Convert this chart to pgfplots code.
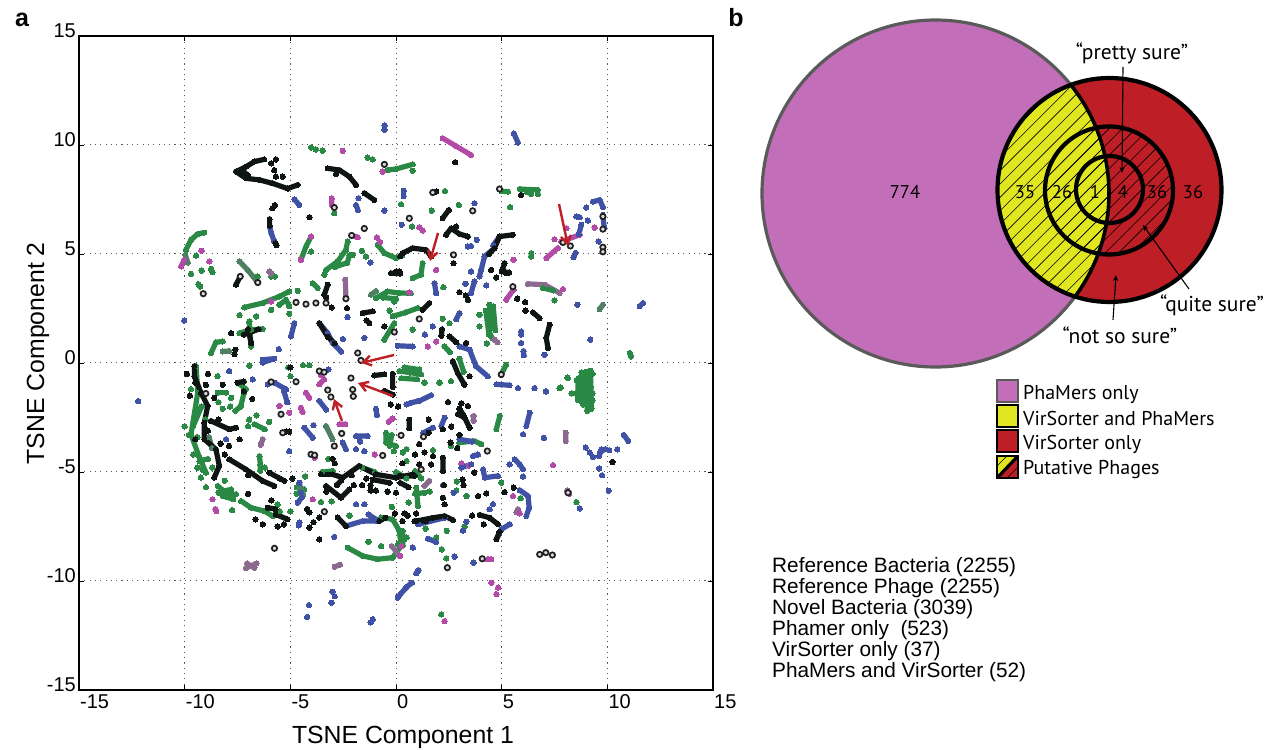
\documentclass[border=0pt]{standalone}
\usepackage{pgfplots}
\pgfplotsset{compat=1.18}
\usetikzlibrary{arrows.meta}
\usepackage{fontspec}
\setmainfont{Liberation Sans}
\newfontfamily\venn{PT Sans}
\definecolor{cg}{HTML}{2A8A45}
\definecolor{cm}{HTML}{B24BA6}
\definecolor{cb}{HTML}{4052A6}
\definecolor{ck}{HTML}{0E1512}
\definecolor{cgm}{HTML}{8A6A8E}
\definecolor{cgg}{HTML}{4F7F63}
\definecolor{vpink}{HTML}{C36EB8}
\definecolor{vyel}{HTML}{E0E720}
\definecolor{vred}{HTML}{BE1E26}
\definecolor{vgray}{HTML}{5A5A5A}
\pgfplotsset{
 st/.style={color=#1,line width=5.2pt,line cap=round,line join=round,mark=*,mark size=2.6pt,mark options={solid,fill=#1,draw=#1,line width=0pt},forget plot},
 dt/.style={only marks,mark=*,mark size=2.7pt,mark options={fill=#1,draw=#1,line width=0pt},forget plot},
}
\begin{document}
\begin{tikzpicture}[x=1pt,y=1pt]
\useasboundingbox (0,0) rectangle (1270,750);
\begin{axis}[at={(79pt,60pt)},anchor=south west,scale only axis,width=634pt,height=654pt,
 xmin=-15,xmax=15,ymin=-15,ymax=15,
 xtick={-15,-10,-5,0,5,10,15},ytick={-15,-10,-5,0,5,10,15},
 minor tick num=0,tick align=inside,major tick length=5pt,
 tick style={black,line width=0.9pt},axis line style={line width=1.3pt,black},
 grid=major,grid style={black!65,line width=1pt,dash pattern=on 1.1pt off 4.2pt},
 /pgf/number format/assume math mode=true,
 tick label style={font=\fontsize{20}{21}\selectfont},
 label style={font=\fontsize{24.8}{26}\selectfont},
 xticklabel style={anchor=north west,inner xsep=0pt,xshift=1pt,yshift=-1pt},
 yticklabel style={anchor=east,inner xsep=0pt,xshift=-3pt,yshift=5.5pt},
 xlabel={TSNE Component 1},ylabel={TSNE Component 2},
 xlabel style={at={(axis description cs:0.511,0)},anchor=center,yshift=-47pt},
 ylabel style={at={(axis description cs:0,0.515)},anchor=center,rotate=0,xshift=0pt,yshift=41pt},
 clip=true]
% green strokes
\addplot[st=cg] coordinates {
(-9.94,5.19) (-9.7,5.65) (-9.38,5.92) (-9.07,5.98)

(-4.5,4.73) (-4.26,5.34) (-4.02,5.8)

(-7.18,2.55) (-6.31,2.75) (-5.52,3.05) (-5.05,3.28)

(-5.52,2.67) (-5.2,2.9) (-5.05,2.6)

(-3.94,3.66) (-3.7,3.44)

(-3.31,4.27) (-2.76,4.66) (-2.37,5.19) (-2.29,5.57)

(-2.9,4.4) (-2.3,4.6) (-2.2,4.95)

(-0.87,5.42) (-0.55,5.04) (0,4.81) (0.3,4.95)

(-0.95,2.98) (-0.39,3.28) (0.16,3.21) (0.7,3.2)

(-0.6,3.0) (0,2.95)

(-0.55,1.07) (-0.08,1.83)

(-7.41,1.37) (-6.86,1.53) (-6.31,1.56)

(-6.94,1.83) (-6.86,0.76)

(-8.75,0.46) (-8.52,0.95) (-8.2,0.99)

(-0.39,8.85) (0,8.9) (0.79,9.11)

(5.0,7.88) (5.3,7.86)

(5.85,7.98) (6.71,7.94) (6.71,7.75)

(6.2,7.85) (6.4,7.75)

(6.4,5.04) (6.4,4.88)

(-0.16,2.14) (0.47,2.32) (1.03,2.52)

(1.26,4.58) (1.18,4.05) (0.79,3.89)

(4.42,2.67) (4.5,1.98) (4.42,1.37) (4.55,1.15)

(4.25,2.4) (4.4,1.3)

(4.6,2.6) (4.7,1.5)

(5.21,-0.08) (4.98,-0.53)

(11.06,0.46) (11.12,0.3)

(2.29,0.76) (2.55,0.5)

(3,0.2) (3.2,-0.4)

(8.78,-0.44) (8.85,-1.9)

(9.2,-0.35) (9.25,-2.1)

(9.0,-0.4) (9.05,-2.2)

(8.62,-0.7) (8.6,-1.7)

(8.3,-1.4) (9.3,-1.4)

(8.55,-0.8) (9.3,-0.5)

(8.8,-1.1) (9.2,-1.1)

(8.8,-1.8) (9.3,-1.7)

(4.91,-2.43) (4.75,-3.04)

(3.0,-3.65) (3.72,-3.58) (4.04,-3.73)

(0.16,-0.37) (0.65,-0.44) (1.19,-0.52)

(0.25,-0.7) (1.0,-0.75)

(0.4,-0.2) (1.1,-0.3)

(0.96,-5.72) (1.04,-6.56)

(0.9,-6.0) (1.35,-5.95)

(0.32,-7.7) (0.32,-8.39)

(-9.38,-1.36) (-9.7,-3.27) (-9.3,-4.34) (-8.99,-5.03)

(-9.2,-2.0) (-9.6,-2.9)

(-9.46,-0.14) (-9.38,-1.36)

(-8.44,-1.36) (-8.04,-1.36)

(-7.33,-1.97) (-7.6,-2.2)

(-7.2,-1.4) (-7.35,-2.0)

(-6.7,-2.81) (-6.21,-3.04)

(-6.46,-4.27) (-6.42,-4.65) (-6.42,-4.95)

(-8.44,-5.64) (-7.97,-6.02) (-7.57,-6.02)

(-8.3,-5.9) (-7.8,-5.8)

(-8.4,-5.95) (-8.0,-6.15)

(-7.33,-6.33) (-6.86,-6.64) (-6.23,-6.79) (-5.84,-7.02)

(-4.5,-5.95) (-4.42,-6.1)

(-4.7,-5.7) (-4.35,-5.8)

(-0.47,-3.2) (-0.47,-3.65) (0,-3.81)

(-0.2,-3.3) (-0.3,-3.8)

(-0.71,-7.09) (-0.16,-7.17) (0.16,-7.7) (0.24,-8.39) (-0.16,-8.93) (-0.87,-9.0) (-1.58,-8.85) (-2.29,-8.47)

(-3.5,-5.0) (-3.0,-4.95)

(-1.6,-4.8) (-1.0,-5.0)

(0,-5.0) (0.5,-5.3)

(0.9,-4.95) (1.2,-5.3)

(-9.3,-4.5) (-8.9,-4.4)

(-7.5,-0.9) (-7.1,-1.2)

(-8.2,-6.1) (-7.7,-6.25)

(-5.8,-7.0) (-5.5,-6.8)
};
\addplot[dt=cg] coordinates {(-9.7,4.09) (-8.75,4.32) (-8.68,4.17) (-9.2,4.24) (-9.46,4.93) (-9.27,3.51) (-9.35,3.62) (-6.55,3.97) (-5.73,3.97) (-5.91,2.44) (-5.05,2.26) (-4.65,3.31) (-3.39,4.05) (-2.05,4.96) (-1.61,5.15) (-1.42,4.89) (-5.91,3.97) (-4.02,5.11) (-4.02,9.89) (-3.79,9.8) (-3.47,9.74) (-1.34,9.42) (-1.1,9.34) (0.79,8.82) (0.24,7.28) (1.69,6.99) (2.97,7.25) (2.32,7.89) (5.4,7.15) (0.76,6.26) (-2.92,6.87) (-0.08,2.82) (-0.3,2.4) (2.24,3.48) (1.9,3.2) (2.21,2.03) (2.53,1.83) (0.79,1.53) (3.95,1.68) (3.95,2.21) (4.3,0.9) (7.5,2.87) (7.74,-1.15) (8.13,-0.69) (8.11,-0.67) (7.8,-1.13) (7.09,-1.31) (2.06,-0.9) (2.6,-0.83) (1.35,-0.9) (-6.94,-0.12) (-7.4,2.2) (-6.62,2.14) (-6.94,1.9) (-8.44,-0.6) (-9.8,-3.3) (-9.23,-5.26) (-8.99,-5.7) (-7.75,-6.75) (-7.0,-2.9) (-6.95,-2.6) (-3.05,-6.35) (-3.55,-6.38) (-4.7,-6.0) (-5.0,-0.6) (-4.4,-0.1) (-4.1,-0.1) (-5.1,-0.2) (0.32,-4.11) (-0.1,-4.05) (2.88,-5.44) (2.85,-5.85) (3.33,-6.1) (3.25,-7.5) (2.4,-7.7) (2.38,-8.96) (2.17,-8.55) (1.9,-8.0) (8.54,-6.38) (5.9,-6.2) (4.98,-5.49) (2.14,-11.53) (2.6,-3.8) (1.75,-4.0) (0.5,-4.5) (-9.7,-1.2) (-10.0,-2.9) (-9.4,-3.4) (-9.0,-2.6) (-8.2,-2.1) (-8.4,-1.8) (-7.8,-1.6) (-7.85,-2.0) (-9.6,-4.2) (-9.4,-4.8) (-9.15,-4.9) (-8.7,-4.8) (-8.1,-5.4) (-6.6,-2.4) (-6.0,-2.7) (-6.2,-4.8) (-5.6,-6.5) (-5.0,-6.8) (-4.3,-5.2) (-3.2,-4.4) (-2.2,-7.0) (-1.3,-8.2) (-0.7,-8.4) (-0.2,-6.6) (0.5,-8.0) (0.5,-3.95) (1.4,-7.6) (1.6,-5.9) (0.6,-6.4)};
% grey mixed strokes
\addplot[st=cgg] coordinates {
(-9.97,4.96) (-9.85,4.6)

(-7.41,4.66) (-7.02,4.27) (-6.54,3.69)

(-3.31,-2.89) (-3.0,-3.5)

(-8.2,0.53) (-7.9,0.55)

(-1.18,3.13) (-0.95,3.3)

(9.64,2.47) (9.79,2.67)

(-4.55,-5.75) (-4.4,-6.0)

(-8.85,-3.4) (-8.7,-3.9)
};
% magenta strokes
\addplot[st=cm] coordinates {
(-10.17,4.43) (-10.02,4.73)

(-3.04,7.56) (-3.04,7.25)

(-2.1,5.85) (-1.81,5.77)

(2.21,10.31) (2.84,9.95) (3.55,9.54)

(5.56,3.36) (5.21,2.9)

(7.11,4.81) (7.66,5.27)

(7.82,5.57) (8.69,5.88)

(-3.63,-0.98) (-3.4,-0.75)

(-4.26,-1.36) (-4.1,-1.6)

(-4.5,-2.05) (-4.42,-2.25)

(-2.68,-2.81) (-2.4,-2.81)

(-0.35,-2.7) (-0.16,-2.55)

(-8.55,-6.7) (-8.5,-6.8)
};
\addplot[st=cgm] coordinates {
(6.24,3.63) (7.03,3.59) (7.74,3.21)

(-2.4,3.82) (-2.37,3.05)

(-6.0,4.2) (-5.9,4.1)

(-7.1,-9.4) (-6.6,-9.2)

(-7.05,-9.2) (-6.7,-9.4)

(-2.9,-9.35) (-2.65,-9.25)

(-6.31,-3.5) (-6.4,-3.75)

(3.67,-2.43) (3.67,-2.65)

(8.03,-3.2) (8.03,-3.58)

(1.35,-5.64) (1.58,-5.41)

(5.77,-6.71) (5.7,-6.85)

(-0.2,-8.4) (0.05,-8.7)

(4.66,1.07) (4.8,0.95)

(8.1,-5.85) (8.2,-6.0)
};
\addplot[st=cg] coordinates {(6.95,3.44) (7.43,3.33)

(0.4,-8.1) (0.1,-8.3)};
\addplot[dt=cm] coordinates {(-9.2,5.15) (-8.83,4.66) (-2.52,9.73) (-0.63,8.78) (-0.9,5.76) (-0.75,5.55) (0.63,3.24) (-5.91,2.82) (-4.5,4.73) (-4.02,5.8) (5.56,4.73) (1.1,6.23) (1.26,6.08) (1.9,4.27) (1.5,0.76) (1.9,0.99) (7.9,3.39) (7.5,5.68) (8.06,6.18) (9.4,6.21) (7.43,-4.69) (5.54,-6.1) (5.85,-6.9) (4.51,-10.08) (4.83,-10.3) (4.75,-10.6) (2.3,-11.84) (3.45,-4.7) (3.09,-4.6) (-5.05,-2.28) (-3.94,-6.25) (-8.68,-6.25) (-3.85,-4.35) (-3.55,-0.55) (-5.52,-1.97) (-1.0,-4.2) (0.25,-8.4) (0.2,-8.85) (4.35,-9.0) (4.5,-9.0)};
% blue strokes
\addplot[st=cb] coordinates {
(-4.81,7.51) (-4.58,7.25)

(-5.98,6.26) (-5.9,5.95) (-5.76,5.57)

(-1.89,7.25) (-1.8,7.0)

(-6.31,0.15) (-5.76,0.2)

(-4.97,1.22) (-4.81,1.83)

(-3.63,1.83) (-3.23,1.37) (-3.0,0.92) (-2.6,0.53)

(-6.31,0.02) (-5.76,0.2)

(0.36,7.9) (0.36,7.65)

(5.58,10.53) (5.77,10.11)

(0.08,0.79) (0.79,0.76)

(1.82,3.66) (1.9,3.2)

(3.0,2.29) (2.85,2.0)

(3,0.76) (3.48,0.61) (3.79,-0.15) (4.34,-0.61)

(3.71,3.74) (3.55,3.2)

(4.66,5.27) (4.19,4.89) (4.03,4.27) (3.95,3.97)

(4.9,5.8) (4.6,5.4)

(8.77,6.34) (8.65,5.9)

(8.53,6.72) (8.7,6.68)

(8.5,5.05) (8.4,4.85)

(9.32,7.4) (9.64,7.48) (9.79,7.15)

(9.79,6.8) (9.85,6.2)

(11.53,2.6) (11.69,2.75)

(5.92,1.45) (5.92,1.3)

(6.03,0.55) (6.05,0.35)

(4.75,-0.98) (5.38,-1.02)

(6.33,-2.28) (6.17,-2.89)

(10.78,-3.3) (10.99,-3.58)

(9.72,-3.96) (9.61,-4.27)

(9.9,-3.95) (9.65,-4.1)

(5.85,-4.65) (6.01,-4.88)

(5.62,-4.42) (5.85,-4.65)

(5.85,-5.83) (6.25,-6.1) (6.3,-6.64) (6.17,-7.02)

(0.72,-1.82) (1.11,-1.74) (1.66,-1.48)

(2.3,-2.51) (2.14,-2.89)

(3.0,-3.5) (3.6,-3.6)

(3.09,-4.8) (3.56,-4.65)

(3.64,-4.27) (3.88,-4.2)

(4.12,-4.88) (4.2,-5.26) (4.83,-5.18)

(5.38,-7.4) (4.98,-7.63) (4.75,-8.09)

(1.51,-8.06) (1.9,-8.21)

(0.08,-10.77) (0.47,-10.3) (0.76,-10.08)

(1.06,-9.5) (0.95,-9.65)

(0.72,-10.08) (0.2,-10.6)

(-0.95,-2.1) (-0.9,-2.4)

(-1.89,-3.35) (-1.34,-3.35)

(-1.7,-3.6) (-1.75,-3.4)

(-4.34,-2.97) (-3.94,-3.43)

(-2.52,-3.65) (-2.37,-3.96)

(-3.63,-1.74) (-3.31,-2.13)

(-5.76,-0.9) (-5.2,-1.21)

(-5.3,-1.3) (-5.15,-1.8)

(-2.37,-7.48) (-1.58,-7.25) (-0.9,-7.25)

(-4.57,-5.49) (-4.5,-5.95)

(-4.65,-6.41) (-4.45,-6.15)

(-4.57,-7.32) (-4.6,-7.45)

(0.5,-1.9) (1.0,-1.75)

(-0.9,-7.2) (-1.3,-6.95)

(1.3,-3.2) (1.75,-2.97)

(1.05,-7.4) (2.3,-7.1)
};
\addplot[dt=cb] coordinates {(-10.02,1.95) (-0.54,10.9) (-0.54,10.7) (-1.77,7.56) (-0.55,6.99) (-2.29,2.11) (-2.52,1.1) (-1.5,1.15) (-1.21,4.61) (-5.55,0.64) (0.27,6.34) (3.71,7.33) (3.55,5.37) (3.4,5.35) (3.82,5.65) (3.55,4.2) (4.27,3.56) (3.29,3.63) (1.74,1.68) (1.37,1.3) (7.03,0.38) (9.08,6.53) (9.0,7.13) (9.59,5.57) (8.58,2.67) (9.19,1.07) (5.92,0.92) (5.77,-1.15) (6.56,-1.15) (7.1,-1.3) (6.01,-3.27) (7.0,-3.43) (8.98,-3.88) (9.17,-4.11) (9.33,-4.31) (10.09,-4.0) (10.47,-3.96) (9.61,-4.83) (9.75,-5.15) (10.07,-5.86) (5.38,-4.65) (6.01,-5.21) (8.7,-6.67) (4.59,-6.48) (4.43,-6.71) (3.33,-7.28) (3.17,-7.68) (2.77,-8.88) (0.8,-8.47) (3.67,-9.16) (1.03,-9.54) (2.73,-5.95) (2.22,-5.6) (-6.78,-0.75) (-7.89,-0.37) (-8.04,-3.5) (-6.07,-0.98) (-5.05,-4.04) (-2.92,-7.98) (-1.5,-4.04) (-1.89,-3.95) (-1.89,-6.48) (-1.5,-6.48) (-12.2,-1.75) (-4.12,-11.1) (-3.0,-10.5) (-2.9,-10.7) (-3.05,-11) (-4.2,-11.65) (-1.2,-11.9) (-1.1,-11.75) (-3.9,-2.85) (-3.55,-0.4) (-3.2,-0.3)};
% black strokes
\addplot[st=ck] coordinates {
(-7.57,8.78) (-7.1,9.0) (-6.7,9.24) (-6.24,9.34)

(-7.57,8.78) (-7.1,8.47) (-6.47,8.4) (-5.84,8.24) (-5.13,8.0) (-4.65,8.17)

(-7.3,8.85) (-7.0,8.6)

(-5.98,6.6) (-5.98,6.3)

(-5.7,5.5) (-5.65,5.4)

(-3.23,8.93) (-2.68,8.85) (-2.21,8.55) (-1.89,8.17)

(-1.5,7.79) (-1.03,7.48)

(-7.57,3.59) (-7.37,3.97)

(-3.23,3.59) (-3.39,3.13)

(-0.24,4.12) (0.2,4.1)

(-1.58,2.29) (-1.1,2.37)

(-3.63,1.83) (-3.23,1.2) (-2.9,0.9)

(-1.26,1.83) (-1.4,1.95)

(-7.2,1.3) (-6.5,1.55)

(-7.0,1.55) (-6.85,0.9)

(0.2,4.9) (0.32,5.04)

(0.32,5.04) (0.79,5.27) (1.42,5.19) (1.66,4.89)

(0,4.2) (0.16,4.2)

(1.58,2.75) (1.26,2.44)

(2.21,6.64) (2.5,7.02)

(2.37,5.88) (2.61,6.18) (3.0,5.92) (3.4,5.8)

(5.53,5.88) (4.9,5.8) (4.66,5.27) (4.4,5.0)

(5.13,4.58) (5.05,4.3)

(5.0,4.2) (5.35,4.15)

(6.48,2.32) (6.79,2.06)

(7.27,1.76) (7.11,1.15) (7.19,0.69)

(2.18,1.55) (2.15,1.25)

(2.53,1.22) (2.85,0.95)

(2.69,0.08) (2.92,-0.46) (3.24,-1.0)

(2.93,-2.35) (3.25,-2.51) (3.48,-2.97)

(3.0,-2.1) (3.2,-2.4)

(2.22,-4.34) (2.22,-4.95)

(0.96,-7.25) (1.75,-7.1) (2.3,-7.02) (2.69,-7.2)

(3.96,-6.97) (4.43,-7.1) (4.83,-7.4)

(4.75,-8.09) (4.9,-7.75)

(-9.54,-0.14) (-9.54,-0.6) (-9.23,-1.36) (-8.91,-1.97) (-9.07,-2.74) (-9.07,-3.5) (-8.52,-3.96) (-8.36,-4.72) (-8.6,-5.26)

(-8.75,-2.66) (-7.89,-3.04) (-7.57,-2.97)

(-7.89,-4.42) (-7.1,-4.88) (-6.31,-5.41) (-5.76,-5.64)

(-6.0,-5.03) (-5.28,-5.41)

(-6.07,-6.64) (-5.7,-6.7)

(-5.68,-6.95) (-5.13,-7.17)

(-3.55,-5.11) (-3.0,-5.11) (-2.52,-5.26) (-1.74,-4.72) (-0.95,-5.11) (0,-5.26) (0.79,-5.11)

(-3.31,-5.64) (-2.6,-6.18) (-2.21,-5.8)

(-2.76,-7.09) (-2.37,-7.48)

(-0.79,-7.25) (-0.5,-7.1)

(0.87,-7.25) (1.42,-7.25)

(-1.03,-0.57) (-0.55,-0.52)

(-0.55,-1.28) (-0.15,-1.45)

(-0.16,-0.5) (-0.16,-1.1)

(0.63,-2.6) (0.63,-3.0)

(0.17,-5.18) (0.88,-5.18)

(0.2,-5.5) (0.6,-5.7)

(-7.5,-0.9) (-7.2,-0.85)

(-2.8,-5.6) (-2.6,-5.4)

(-1.1,-5.35) (-0.3,-5.5)
};
\addplot[dt=ck] coordinates {(-5.91,9.16) (-5.68,9.34) (-5.76,8.85) (-5.68,8.55) (-5.36,8.55) (-5.73,7.24) (-5.85,7.1) (-4.1,6.69) (-2.84,8.66) (2.8,9.21) (5.92,7.71) (-3.04,2.55) (-2.32,2.52) (-3.3,3.0) (-7.8,1.37) (-7.6,0.61) (-7.65,0.41) (-0.55,1.68) (1.9,7.86) (2.84,6.26) (2.72,4.58) (5.21,4.12) (4.74,3.92) (4.5,4.27) (3.0,3.25) (3.4,2.9) (3.3,3.1) (5.73,2.95) (6.11,2.79) (6.13,2.4) (3.32,0.92) (3.48,-0.61) (10.24,-4.54) (2.46,-1.79) (3.09,-1.85) (3.4,-1.97) (2.61,-2.92) (2.22,-3.04) (1.75,-4.27) (1.66,-4.65) (1.35,-4.1) (1.1,-3.72) (3.0,-3.3) (2.58,-3.65) (2.9,-3.9) (1.1,-4.65) (2.27,-5.6) (3.2,-5.6) (3.15,-5.35) (3.89,-6.1) (4.27,-5.98) (2.22,-6.18) (2.3,-6.48) (3.7,-5.03) (5.57,-5.72) (5.14,-5.92) (4.15,-7.4) (3.6,-7.0) (-9.0,-1.0) (-8.9,-0.5) (-9.5,-0.9) (-8.2,-1.0) (-7.2,-1.3) (-7.9,-3.8) (-7.4,-3.5) (-6.8,-1.65) (-5.0,-0.2) (-7.0,-6.0) (-6.65,-7.17) (-6.3,-7.4) (-5.6,-7.5) (-5.2,-3.15) (-5.05,-3.15) (-3.63,-7.09) (-3.9,-7.3) (-4.1,-7.55) (-3.63,-8.09) (-4.2,-6.7) (-4.1,-6.85) (-3.0,-4.4) (-2.9,-4.6) (-2.0,-5.6) (-1.6,-5.6) (-1.2,-5.6) (-1.2,-5.85) (-0.95,-5.85) (-0.4,-5.9) (0,-5.95) (0.4,-6.9) (0.55,-7.0) (0.95,-6.9) (0.3,-7.25) (-0.05,-6.9) (0.1,-2.0) (-0.25,-1.9) (1.55,-2.6) (1.55,-3.2) (-9.9,-0.5) (-9.75,-1.5) (-8.6,-1.6) (-8.4,-2.6) (-9.5,-3.5) (-8.9,-3.1) (-8.1,-4.2) (-8.3,-3.7) (-7.0,-5.15) (-5.9,-6.3) (-5.3,-7.4) (-5.5,-5.3) (-4.9,-5.3) (-3.3,-5.9) (-2.1,-5.15) (-1.4,-5.3) (0.3,-4.6) (0.9,-4.2)};
% circled points
\addplot[only marks,mark=*,mark size=2.7pt,mark options={fill=gray!30,draw=black!88,line width=1.7pt},forget plot] coordinates {(-9.12,3.18) (-7.37,3.97) (-6.54,3.69) (-2.92,7.13) (-1.5,6.17) (-2.1,5.85) (-4.73,2.78) (-4.26,2.7) (-3.79,2.75) (-3.31,2.75) (-2.37,2.95) (-0.55,9.11) (1.74,7.82) (3.63,6.98) (4.9,7.98) (0.63,6.64) (2.72,4.96) (5.53,3.5) (7.9,5.53) (8.25,5.37) (9.79,6.72) (9.79,6.14) (9.79,5.31) (9.79,5.1) (1.1,2.02) (-0.08,1.42) (4.98,-0.53) (-1.66,0.12) (-1.81,0.46) (-2.13,-0.69) (-2.05,-1.22) (-2.02,-1.53) (4.32,-4.04) (8.14,-5.95) (6.8,-8.78) (7.09,-8.7) (7.4,-8.81) (2.43,-9.39) (4.08,-8.98) (0.24,-3.32) (1.3,-3.38) (1.19,-4.88) (-5.91,-0.87) (-4.73,-0.86) (-3.63,-0.37) (-3.4,-0.42) (-3.23,-1.24) (-3.08,-1.56) (-5.44,-2.35) (-5.36,-3.2) (-4.02,-4.19) (-3.85,-4.23) (-2.57,-3.23) (-2.92,-3.81) (-0.63,-4.24) (-3.39,-6.82) (-9.0,-1.4) (-5.75,-8.5)};
\end{axis}
% overlay annotation in image pixel coordinates
\begin{scope}[shift={(0,750)},y=-1pt,x=1pt]
\node[anchor=center,font=\fontsize{25}{26}\selectfont\bfseries] at (22,20) {a};
\node[anchor=center,font=\fontsize{25}{26}\selectfont\bfseries] at (736,18) {b};
% red arrows on scatter
\begin{scope}[draw=vred,line width=2.4pt,-{Straight Barb[length=8pt,width=10pt]}]
\draw (394,355) -- (361,363);
\draw (393,396) -- (358,383);
\draw (342,421) -- (334,399);
\draw (438,233) -- (430,261);
\draw (559,204) -- (568,246);
\end{scope}
% Venn
\fill[vpink] (935.5,193.5) circle (173.5);
\fill[vred] (1109.5,190) circle (112);
\begin{scope}
\clip (1109.5,190) circle (112);
\clip (935.5,193.5) circle (173.5);
\fill[vyel] (990,70) rectangle (1130,310);
\foreach \c in {0,13.4,...,460}{\draw[black,line width=0.6pt] (980,70+\c) -- ++(300,-300);}
\end{scope}
\begin{scope}
\clip (1109,190) circle (64);
\foreach \c in {0,13.4,...,460}{\draw[black,line width=0.6pt] (980,70+\c) -- ++(300,-300);}
\end{scope}
\draw[vgray,line width=3.2pt] (935.5,193.5) ++(36.5:173.5) arc (36.5:321:173.5);
\begin{scope}
\clip (1109.5,190) circle (112);
\draw[black,line width=3.6pt] (935.5,193.5) circle (173.5);
\end{scope}
\draw[black,line width=4.2pt] (1109.5,190) circle (112);
\draw[black,line width=4.2pt] (1109,190.5) circle (64);
\draw[black,line width=4.2pt] (1109.5,189.5) circle (33.5);
\begin{scope}[font=\venn\fontsize{18.5}{20}\selectfont]
\node at (905,192) {774};
\node at (1025,192) {35};
\node at (1062,192) {26};
\node at (1095,192) {1};
\node at (1123,192) {4};
\node at (1157,192) {36};
\node at (1193,192) {36};
\end{scope}
\begin{scope}[font=\venn\fontsize{21.5}{23}\selectfont]
\node at (1132,53) {“pretty sure”};
\node at (1212,305) {“quite sure”};
\node at (1120,335) {“not so sure”};
\end{scope}
\begin{scope}[black,line width=1.1pt,-{Stealth[length=6pt,width=5pt]}]
\draw (1123,67) -- (1122,173);
\draw (1189,289) -- (1143,225);
\draw (1113,320) -- (1116,275);
\end{scope}
% legend
\fill[vpink] (997,380) rectangle (1018,402);
\draw[vgray,line width=1.4pt] (997,380) rectangle (1018,402);
\fill[vyel] (997,405) rectangle (1018,427);
\draw[black,line width=1.4pt] (997,405) rectangle (1018,427);
\fill[vred] (997,430) rectangle (1018,452);
\draw[black,line width=1.4pt] (997,430) rectangle (1018,452);
\fill[vyel] (997,456) rectangle (1018,478);
\fill[vred] (1018,456) -- (1018,478) -- (997,478) -- cycle;
\begin{scope}
\clip (997,456) rectangle (1018,478);
\draw[black,line width=3.2pt] (997,478) -- (1018,456);
\draw[black,line width=0.6pt] (997,466) -- (1007,456);
\draw[black,line width=0.6pt] (1007,478) -- (1018,467);
\end{scope}
\draw[black,line width=1.6pt] (997,456) rectangle (1018,478);
\begin{scope}[font=\venn\fontsize{20}{22}\selectfont]
\node[anchor=west,inner sep=0pt] at (1023,394) {PhaMers only};
\node[anchor=west,inner sep=0pt] at (1023,419) {VirSorter and PhaMers};
\node[anchor=west,inner sep=0pt] at (1023,444) {VirSorter only};
\node[anchor=west,inner sep=0pt] at (1023,470) {Putative Phages};
\end{scope}
% counts
\begin{scope}[font=\fontsize{20.8}{22}\selectfont]
\node[anchor=west,inner sep=0pt] at (772,567) {Reference Bacteria (2255)};
\node[anchor=west,inner sep=0pt] at (772,588) {Reference Phage (2255)};
\node[anchor=west,inner sep=0pt] at (772,609) {Novel Bacteria (3039)};
\node[anchor=west,inner sep=0pt] at (772,630) {Phamer only\ \ (523)};
\node[anchor=west,inner sep=0pt] at (772,651) {VirSorter only (37)};
\node[anchor=west,inner sep=0pt] at (772,672) {PhaMers and VirSorter (52)};
\end{scope}
\end{scope}
\end{tikzpicture}
\end{document}
